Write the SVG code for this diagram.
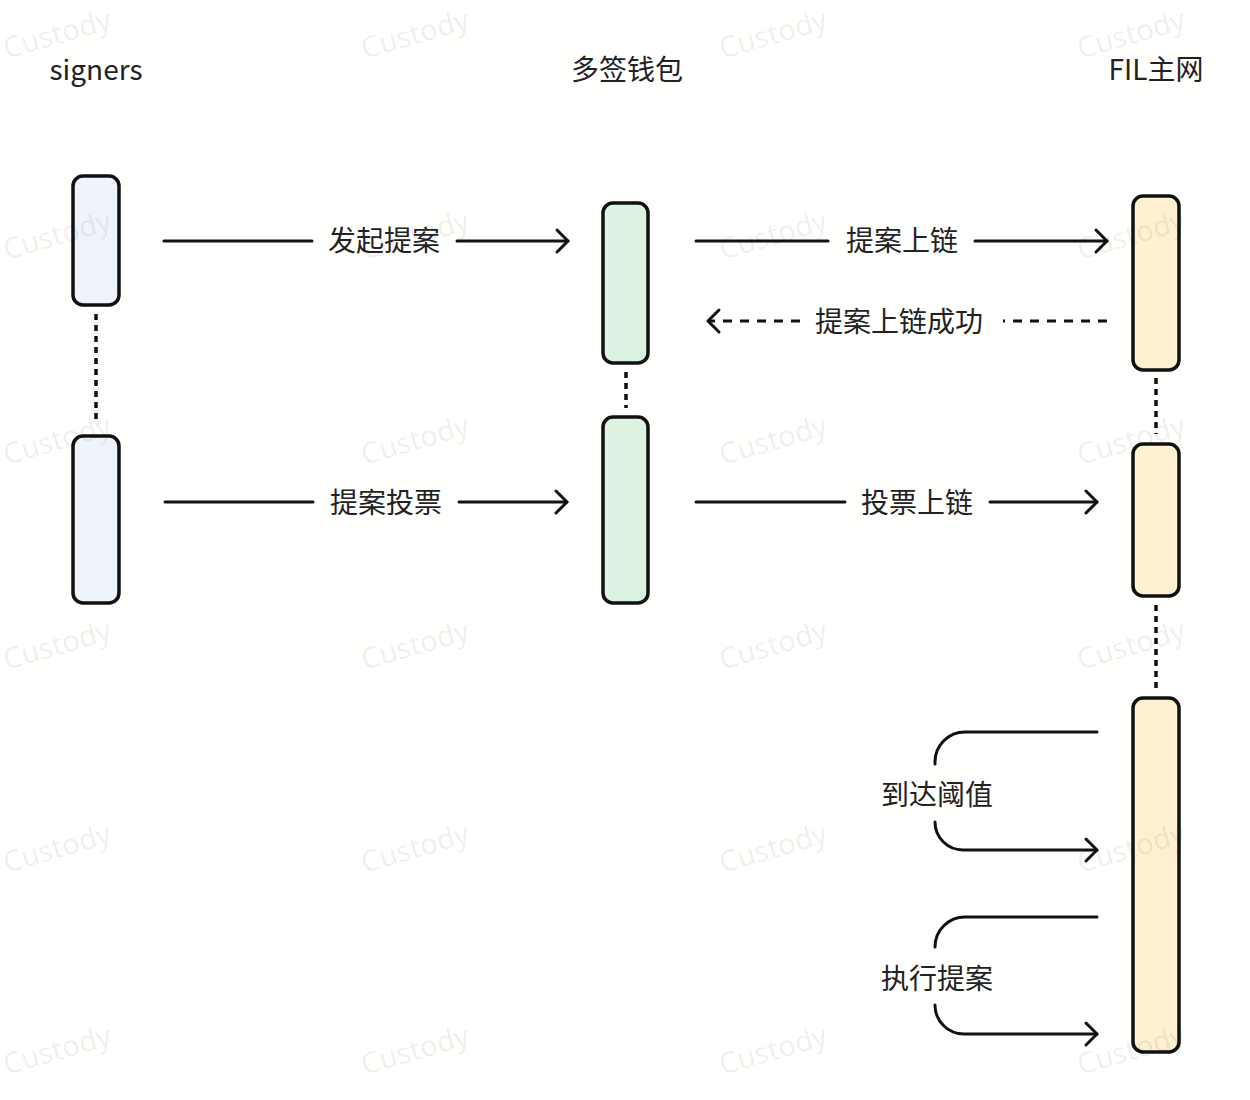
<svg xmlns="http://www.w3.org/2000/svg" width="1250" height="1100" viewBox="0 0 1250 1100">
<style>
  .wm { font-family: "Noto Sans", "Noto Sans CJK SC", sans-serif; font-size: 29px; fill: #000; fill-opacity: 0.07; }
  .hdr { font-family: "Noto Sans CJK SC", "Noto Sans", sans-serif; font-size: 28px; fill: #222; text-anchor: middle; }
  .lbl { font-family: "Noto Sans CJK SC", "Noto Sans", sans-serif; font-size: 28px; fill: #222; text-anchor: middle; }
  .act { stroke: #111; stroke-width: 3.5; }
  .blue { fill: #eef3fc; }
  .green { fill: #dcf3e2; }
  .yellow { fill: #fef1d1; }
  .life { stroke: #111; stroke-width: 3.5; stroke-dasharray: 6 5; fill: none; }
  .msg { stroke: #111; stroke-width: 3; fill: none; stroke-linecap: round; }
  .dash { stroke-dasharray: 9 8; stroke-linecap: butt; }
</style>
<defs>
  <marker id="arr" markerUnits="userSpaceOnUse" viewBox="-14 -14 28 28" markerWidth="28" markerHeight="28" refX="0" refY="0" orient="auto">
    <path d="M-11,-11 L0,0 L-11,11" fill="none" stroke="#111" stroke-width="3" stroke-linecap="round" stroke-linejoin="round"/>
  </marker>
</defs>
<rect width="1250" height="1100" fill="#fffffe"/>
<g id="headers">
  <text class="hdr" x="96" y="80">signers</text>
  <text class="hdr" x="627" y="80">多签钱包</text>
  <text class="hdr" x="1156" y="80">FIL主网</text>
</g>
<g id="lifelines">
  <line class="life" x1="96" y1="314" x2="96" y2="424"/>
  <line class="life" x1="626" y1="372" x2="626" y2="408"/>
  <line class="life" x1="1156" y1="378" x2="1156" y2="434"/>
  <line class="life" x1="1156" y1="605" x2="1156" y2="690"/>
</g>
<g id="signers-act1"><rect class="act blue" x="73" y="176" width="46" height="129" rx="10"/></g>
<g id="signers-act2"><rect class="act blue" x="73" y="436" width="46" height="167" rx="10"/></g>
<g id="wallet-act1"><rect class="act green" x="603" y="203" width="45" height="160" rx="10"/></g>
<g id="wallet-act2"><rect class="act green" x="603" y="417" width="45" height="186" rx="10"/></g>
<g id="fil-act1"><rect class="act yellow" x="1133" y="196" width="46" height="174" rx="10"/></g>
<g id="fil-act2"><rect class="act yellow" x="1133" y="444" width="46" height="152" rx="10"/></g>
<g id="fil-act3"><rect class="act yellow" x="1133" y="698" width="46" height="354" rx="10"/></g>
<g id="connectors">
  <line class="msg" x1="164" y1="241" x2="312" y2="241"/>
  <line class="msg" x1="457" y1="241" x2="568" y2="241" marker-end="url(#arr)"/>
  <line class="msg" x1="696" y1="241" x2="828" y2="241"/>
  <line class="msg" x1="975" y1="241" x2="1107" y2="241" marker-end="url(#arr)"/>
  <line class="msg dash" x1="1107" y1="321" x2="1003" y2="321"/>
  <line class="msg dash" x1="800" y1="321" x2="708" y2="321" marker-end="url(#arr)"/>
  <line class="msg" x1="165" y1="502" x2="313" y2="502"/>
  <line class="msg" x1="459" y1="502" x2="567" y2="502" marker-end="url(#arr)"/>
  <line class="msg" x1="696" y1="502" x2="845" y2="502"/>
  <line class="msg" x1="990" y1="502" x2="1097" y2="502" marker-end="url(#arr)"/>
  <path class="msg" d="M1097,732 H965 A30,30 0 0 0 935,762 V764"/>
  <path class="msg" d="M935,822 A28,28 0 0 0 963,850 H1097" marker-end="url(#arr)"/>
  <path class="msg" d="M1097,917 H965 A30,30 0 0 0 935,947"/>
  <path class="msg" d="M935,1005 A29,29 0 0 0 964,1034 H1097" marker-end="url(#arr)"/>
</g>
<g id="labels">
  <text class="lbl" x="384" y="251">发起提案</text>
  <text class="lbl" x="902" y="251">提案上链</text>
  <text class="lbl" x="899" y="332">提案上链成功</text>
  <text class="lbl" x="386" y="513">提案投票</text>
  <text class="lbl" x="917" y="513">投票上链</text>
  <text class="lbl" x="937" y="805">到达阈值</text>
  <text class="lbl" x="937" y="989">执行提案</text>
</g>
<g id="watermarks">
  <g transform="translate(57,34) rotate(-16)"><text class="wm" x="0" y="10" text-anchor="middle">Custody</text></g>
  <g transform="translate(415,34) rotate(-16)"><text class="wm" x="0" y="10" text-anchor="middle">Custody</text></g>
  <g transform="translate(773,34) rotate(-16)"><text class="wm" x="0" y="10" text-anchor="middle">Custody</text></g>
  <g transform="translate(1131,34) rotate(-16)"><text class="wm" x="0" y="10" text-anchor="middle">Custody</text></g>
  <g transform="translate(57,235) rotate(-16)"><text class="wm" x="0" y="10" text-anchor="middle">Custody</text></g>
  <g transform="translate(415,235) rotate(-16)"><text class="wm" x="0" y="10" text-anchor="middle">Custody</text></g>
  <g transform="translate(773,235) rotate(-16)"><text class="wm" x="0" y="10" text-anchor="middle">Custody</text></g>
  <g transform="translate(1131,235) rotate(-16)"><text class="wm" x="0" y="10" text-anchor="middle">Custody</text></g>
  <g transform="translate(57,440) rotate(-16)"><text class="wm" x="0" y="10" text-anchor="middle">Custody</text></g>
  <g transform="translate(415,440) rotate(-16)"><text class="wm" x="0" y="10" text-anchor="middle">Custody</text></g>
  <g transform="translate(773,440) rotate(-16)"><text class="wm" x="0" y="10" text-anchor="middle">Custody</text></g>
  <g transform="translate(1131,440) rotate(-16)"><text class="wm" x="0" y="10" text-anchor="middle">Custody</text></g>
  <g transform="translate(57,645) rotate(-16)"><text class="wm" x="0" y="10" text-anchor="middle">Custody</text></g>
  <g transform="translate(415,645) rotate(-16)"><text class="wm" x="0" y="10" text-anchor="middle">Custody</text></g>
  <g transform="translate(773,645) rotate(-16)"><text class="wm" x="0" y="10" text-anchor="middle">Custody</text></g>
  <g transform="translate(1131,645) rotate(-16)"><text class="wm" x="0" y="10" text-anchor="middle">Custody</text></g>
  <g transform="translate(57,848) rotate(-16)"><text class="wm" x="0" y="10" text-anchor="middle">Custody</text></g>
  <g transform="translate(415,848) rotate(-16)"><text class="wm" x="0" y="10" text-anchor="middle">Custody</text></g>
  <g transform="translate(773,848) rotate(-16)"><text class="wm" x="0" y="10" text-anchor="middle">Custody</text></g>
  <g transform="translate(1131,848) rotate(-16)"><text class="wm" x="0" y="10" text-anchor="middle">Custody</text></g>
  <g transform="translate(57,1050) rotate(-16)"><text class="wm" x="0" y="10" text-anchor="middle">Custody</text></g>
  <g transform="translate(415,1050) rotate(-16)"><text class="wm" x="0" y="10" text-anchor="middle">Custody</text></g>
  <g transform="translate(773,1050) rotate(-16)"><text class="wm" x="0" y="10" text-anchor="middle">Custody</text></g>
  <g transform="translate(1131,1050) rotate(-16)"><text class="wm" x="0" y="10" text-anchor="middle">Custody</text></g>
</g>
</svg>
